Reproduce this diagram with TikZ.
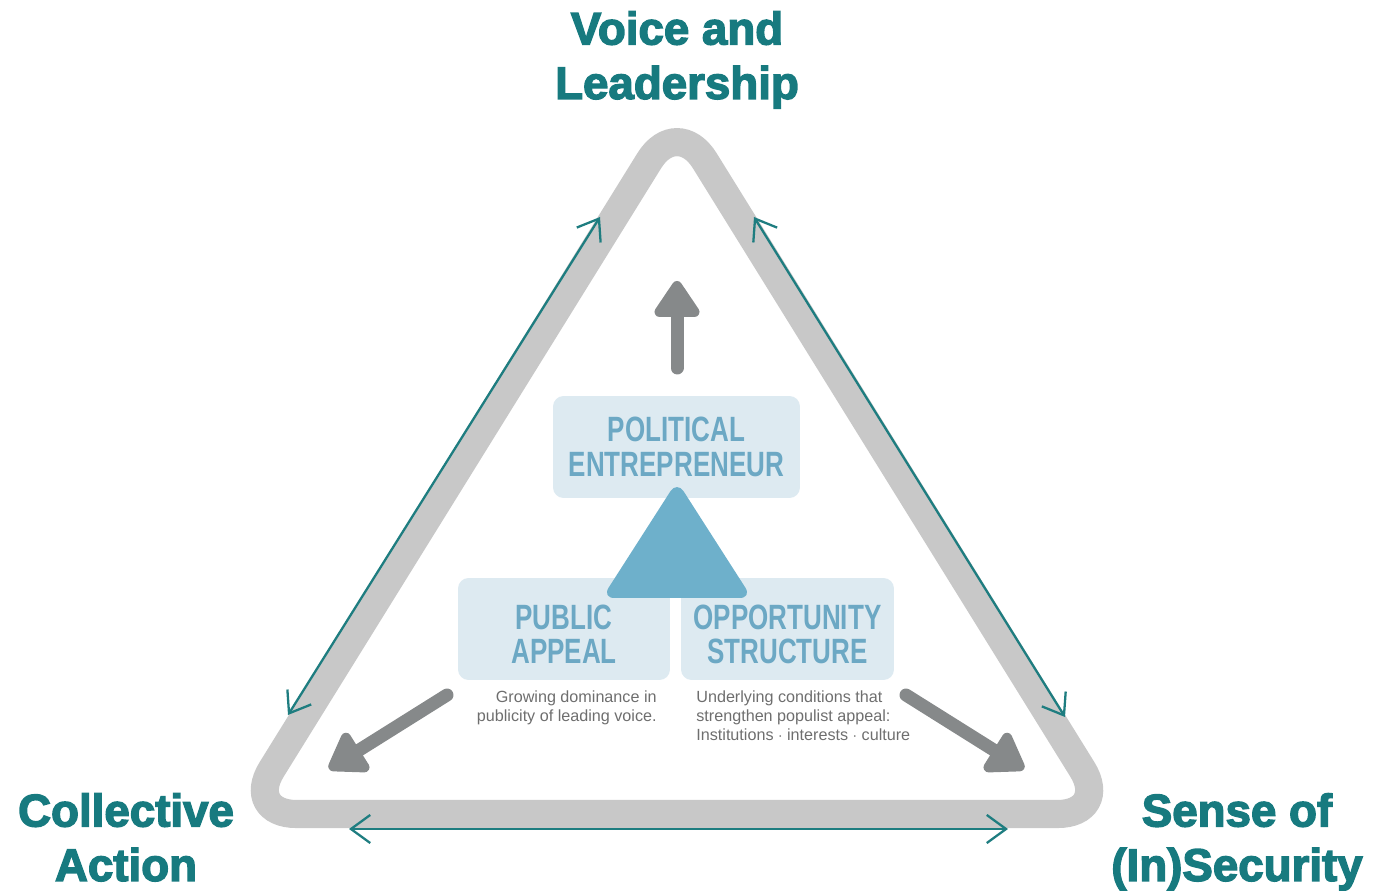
\documentclass[tikz,border=0pt]{standalone}
\usepackage{fontspec}
\setmainfont{Liberation Sans}
\newfontfamily\titlefont{Liberation Sans}[FakeBold=3]
\newfontfamily\boxfont{Liberation Sans}[FakeStretch=0.74]
\usetikzlibrary{arrows.meta}
\definecolor{titleteal}{RGB}{23,122,127}
\definecolor{linkteal}{RGB}{30,125,128}
\definecolor{bandgray}{RGB}{200,200,200}
\definecolor{pushgray}{RGB}{134,137,138}
\definecolor{boxblue}{RGB}{221,234,241}
\definecolor{boxtext}{RGB}{108,168,196}
\definecolor{wedgeblue}{RGB}{110,176,203}
\definecolor{notegray}{RGB}{110,110,110}
\tikzset{
  band/.style={draw=bandgray, line width=16pt, rounded corners=1.05cm},
  link/.style={draw=linkteal, line width=1.3pt,
    {Straight Barb[length=11pt,width=16pt]}-{Straight Barb[length=11pt,width=16pt]}},
  push/.style={draw=pushgray, line width=7.4pt, line cap=round,
    -{Triangle[length=23pt,width=29pt,round]}},
  factor/.style={fill=boxblue, rounded corners=6pt, text=boxtext, align=center,
    inner sep=0pt, font={\boxfont\bfseries\fontsize{20pt}{19.5pt}\selectfont}},
  corner/.style={text=titleteal, align=center, inner sep=0pt,
    font={\titlefont\bfseries\fontsize{26pt}{31pt}\selectfont}},
  note/.style={text=notegray, inner sep=0pt,
    font={\fontsize{9.2pt}{10.8pt}\selectfont}}
}
\begin{document}
\begin{tikzpicture}[x=0.02cm, y=-0.02cm]
\useasboundingbox (0,0) rectangle (1373,891);
\coordinate (apex) at (677,116);
\coordinate (lcorner) at (244,814);
\coordinate (rcorner) at (1110,814);
% Outer triangle
\draw[band] (apex) -- (lcorner) -- (rcorner) -- cycle;
% Corner labels
\node[corner, anchor=north] (voice) at (677,11) {Voice and\\Leadership};
\node[corner, anchor=north] (collective) at (126,793) {Collective\\Action};
\node[corner, anchor=north] (security) at (1237,793) {Sense of\\(In)Security};
% Links along the sides
\coordinate (lt) at (600,217);
\coordinate (lb) at (288,715);
\coordinate (rt) at (754,217);
\coordinate (rb) at (1065,717);
\coordinate (bl) at (349,829);
\coordinate (br) at (1008,829);
\draw[link] (lt) -- (lb);
\draw[link] (rt) -- (rb);
\draw[link] (bl) -- (br);
% Inner boxes
\node[factor, minimum width=4.94cm, minimum height=2.04cm] (entrepreneur) at (676.5,447) {POLITICAL\\ENTREPRENEUR};
\node[factor, minimum width=4.24cm, minimum height=2.04cm] (appeal) at (564,629) {\rule{0pt}{20pt}PUBLIC\\APPEAL};
\node[factor, minimum width=4.26cm, minimum height=2.04cm] (structure) at (787.5,629) {\rule{0pt}{20pt}OPPORTUNITY\\STRUCTURE};
% Blue wedge
\fill[wedgeblue, rounded corners=7pt] (677,481) -- (602,598) -- (752,598) -- cycle;
% Notes under the boxes
\node[note, anchor=north east, align=right] (growing) at (657,690) {Growing dominance in\\publicity of leading voice.};
\node[note, anchor=north west, align=left] (underlying) at (696,690) {Underlying conditions that\\strengthen populist appeal:\\Institutions $\cdot$ interests $\cdot$ culture};
% Gray arrows
\coordinate (up0) at (677,368);
\coordinate (up1) at (677,281);
\coordinate (left0) at (447,695);
\coordinate (left1) at (329,769);
\coordinate (right0) at (906,695);
\coordinate (right1) at (1024,769);
\draw[push] (up0) -- (up1);
\draw[push] (left0) -- (left1);
\draw[push] (right0) -- (right1);
\end{tikzpicture}
\end{document}
